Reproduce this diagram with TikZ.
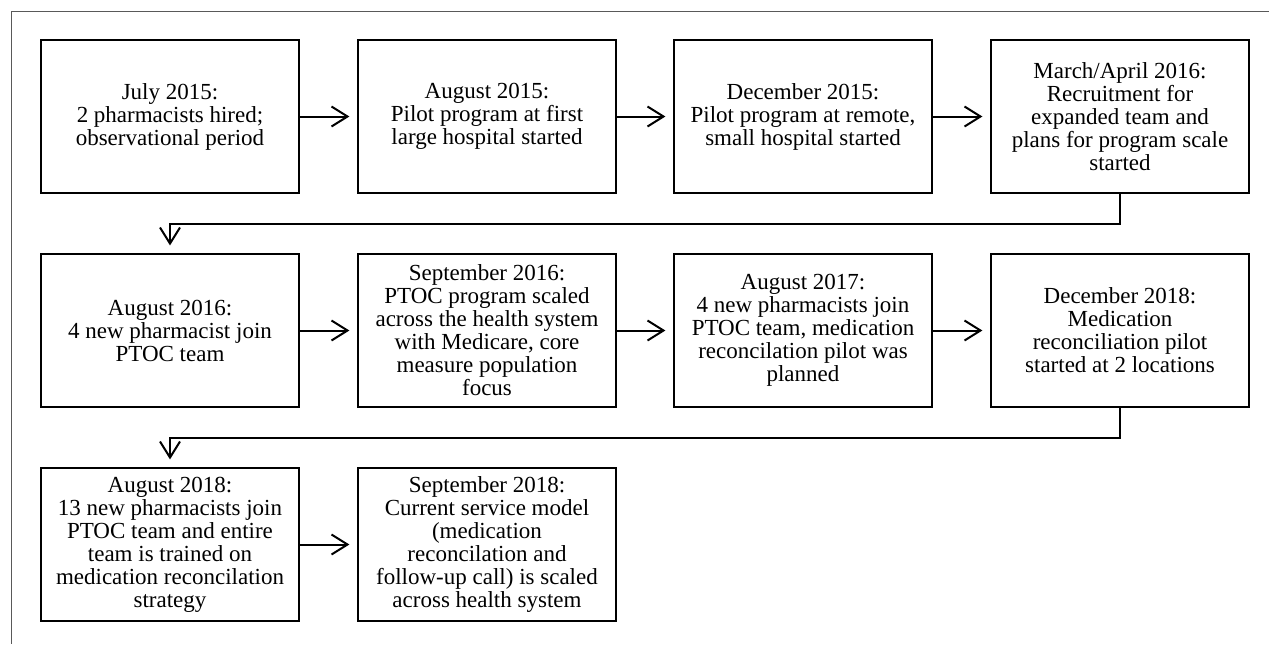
\documentclass[tikz,border=0pt]{standalone}
\usepackage{fontspec}
\setmainfont{Liberation Serif}
\usepackage{tikz}
\usetikzlibrary{arrows.meta}
\tikzset{event/.style={draw, line width=1pt, minimum width=129pt, minimum height=76.5pt, inner sep=0pt, align=center, font=\fontsize{11.5pt}{11.5pt}\selectfont}}
\tikzset{flow/.style={-{Straight Barb[length=8pt, width=10pt, line width=1pt]}, line width=1pt, shorten >=#1}}
\tikzset{flow/.default=3.8pt}
\tikzset{frame/.style={draw=black!65, line width=0.5pt}}

\begin{document}
\begin{tikzpicture}[x=0.5pt, y=-0.5pt]
            \useasboundingbox (0, 0) rectangle (1269, 644);
            \draw[frame] (1269, 11) -- (11, 11) -- (11, 644);
            % first row
            \node[event] (jul15) at (170, 116.5) {July 2015:\\2 pharmacists hired;\\observational period};
            \node[event] (aug15) at (487, 116.5) {August 2015:\\Pilot program at first\\large hospital started};
            \node[event] (dec15) at (803, 116.5) {December 2015:\\Pilot program at remote,\\small hospital started};
            \node[event] (mar16) at (1120, 116.5) {March/April 2016:\\Recruitment for\\expanded team and\\plans for program scale\\started};
            % second row
            \node[event] (aug16) at (170, 330.5) {August 2016:\\4 new pharmacist join\\PTOC team};
            \node[event] (sep16) at (487, 330.5) {September 2016:\\PTOC program scaled\\across the health system\\with Medicare, core\\measure population\\focus};
            \node[event] (aug17) at (803, 330.5) {August 2017:\\4 new pharmacists join\\PTOC team, medication\\reconcilation pilot was\\planned};
            \node[event] (dec18) at (1120, 330.5) {December 2018:\\Medication\\reconciliation pilot\\started at 2 locations};
            % third row
            \node[event] (aug18) at (170, 544.5) {August 2018:\\13 new pharmacists join\\PTOC team and entire\\team is trained on\\medication reconcilation\\strategy};
            \node[event] (sep18) at (487, 544.5) {September 2018:\\Current service model\\(medication\\reconcilation and\\follow-up call) is scaled\\across health system};
            \draw[flow] (jul15) -- (aug15);
            \draw[flow] (aug15) -- (dec15);
            \draw[flow] (dec15) -- (mar16);
            \draw[flow] (mar16.south) -- ++(0, 30) -| (aug16.north);
            \draw[flow] (aug16) -- (sep16);
            \draw[flow] (sep16) -- (aug17);
            \draw[flow] (aug17) -- (dec18);
            \draw[flow] (dec18.south) -- ++(0, 30) -| (aug18.north);
            \draw[flow] (aug18) -- (sep18);
        \end{tikzpicture}
\end{document}
